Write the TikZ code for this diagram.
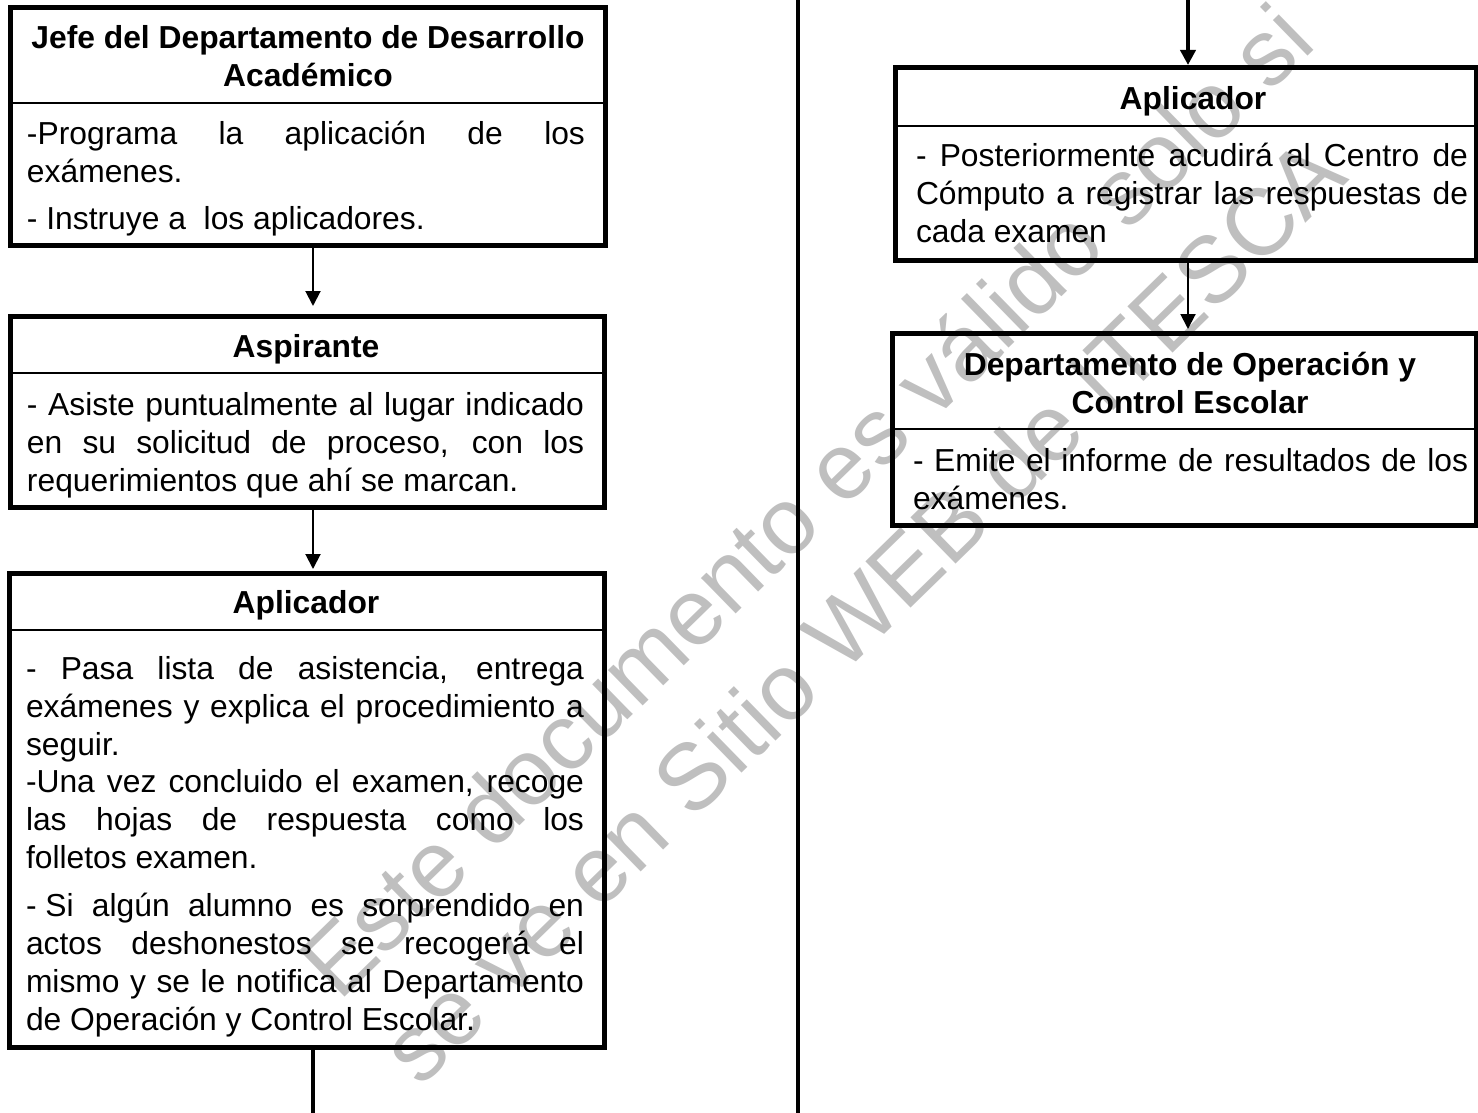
\documentclass[tikz,border=0pt]{standalone}
\usepackage{fontspec}
\setmainfont{Liberation Sans}
\usetikzlibrary{arrows.meta}
\tikzset{
  x=1pt,y=-1pt,
  box/.style={draw=black,line width=5pt,inner sep=0pt,outer sep=0pt,anchor=north west},
  sep/.style={draw=black,line width=2.5pt},
  bodytext/.style={inner sep=0pt,outer sep=0pt,anchor=north west,yshift=26.6pt,align=justify,
    font=\fontsize{31.8}{38}\selectfont,execute at begin node={\hyphenpenalty=10000\relax\strut}},
  titletext/.style={inner sep=0pt,outer sep=0pt,anchor=north,yshift=26.6pt,align=center,
    font=\fontsize{31.8}{38}\selectfont\bfseries,execute at begin node=\strut},
  flow/.style={draw=black,line width=2pt,-{Triangle[length=15pt,width=15pt]}},
  trunk/.style={draw=black,line width=4pt},
  mark text/.style={text=black!25,font=\fontsize{94}{94}\selectfont,inner sep=0pt,outer sep=0pt,anchor=base west,rotate=44.3},
}
\begin{document}
\begin{tikzpicture}
\useasboundingbox (0,0) rectangle (1478,1113);
\clip (0,0) rectangle (1478,1113);
% watermark
\node[mark text] (wm1) at (339,1002) {Este documento es válido solo si};
\node[mark text] (wm2) at (420,1088) {se ve en Sitio WEB de ITESCA};
% guides
\coordinate (colA) at (313,0);
\coordinate (colB) at (1188,0);
\coordinate (topB) at (1188,0);
\coordinate (midtop) at (798,0);
\coordinate (midbot) at (798,1113);
\coordinate (botA) at (313,1113);
% boxes
\node[box,minimum width=595pt,minimum height=237pt] (b1) at (10,8) {};
\node[box,minimum width=594pt,minimum height=191pt] (b2) at (10,316) {};
\node[box,minimum width=595pt,minimum height=474pt] (b3) at (9,573) {};
\node[box,minimum width=581pt,minimum height=192pt] (b4) at (895,68) {};
\node[box,minimum width=584pt,minimum height=192pt] (b5) at (892,333) {};
% header separators
\coordinate (s1) at (0,103);
\coordinate (s2) at (0,373);
\coordinate (s3) at (0,630);
\coordinate (s4) at (0,126);
\coordinate (s5) at (0,429);
\draw[sep] (b1.west |- s1) -- (b1.east |- s1);
\draw[sep] (b2.west |- s2) -- (b2.east |- s2);
\draw[sep] (b3.west |- s3) -- (b3.east |- s3);
\draw[sep] (b4.west |- s4) -- (b4.east |- s4);
\draw[sep] (b5.west |- s5) -- (b5.east |- s5);
% titles
\node[titletext] (t1) at (308,52) {Jefe del Departamento de Desarrollo\\Académico};
\node[titletext] (t2) at (306,357) {Aspirante};
\node[titletext] (t3) at (306,613) {Aplicador};
\node[titletext] (t4) at (1193,110) {Aplicador};
\node[titletext] (t5) at (1190,379) {Departamento de Operación y\\Control Escolar};
% body text
\node[bodytext,text width=558pt] (p1a) at (27,145) {-Programa la aplicación de los\linebreak exámenes.};
\node[bodytext,text width=558pt] (p1b) at (27,229) {- Instruye a\ \ los aplicadores.};
\node[bodytext,text width=557pt] (p2) at (27,415) {- Asiste puntualmente al lugar indicado\linebreak en su solicitud de proceso, con los\linebreak requerimientos que ahí se marcan.};
\node[bodytext,text width=558pt] (p3a) at (26,679) {- Pasa lista de asistencia, entrega\linebreak exámenes y explica el procedimiento a\linebreak seguir.};
\node[bodytext,text width=558pt] (p3b) at (26,792) {-Una vez concluido el examen, recoge\linebreak las hojas de respuesta como los\linebreak folletos examen.};
\node[bodytext,text width=558pt] (p3c) at (26,916) {-\hspace{.28em}Si algún alumno es sorprendido en\linebreak actos deshonestos se recogerá el\linebreak mismo y se le notifica al Departamento\linebreak de Operación y Control Escolar.};
\node[bodytext,text width=552pt] (p4) at (916,167) {- Posteriormente acudirá al Centro de\linebreak Cómputo a registrar las respuestas de\linebreak cada examen};
\node[bodytext,text width=555pt] (p5) at (913,471) {- Emite el informe de resultados de los\linebreak exámenes.};
% connectors
\draw[flow] (b1.south -| colA) -- ([yshift=10pt]b2.north -| colA);
\draw[flow] (b2.south -| colA) -- ([yshift=4pt]b3.north -| colA);
\draw[trunk] (b3.south -| colA) -- (botA);
\draw[trunk] (midtop) -- (midbot);
\draw[flow,line width=4pt] (topB) -- ([yshift=3pt]b4.north -| colB);
\draw[flow] (b4.south -| colB) -- ([yshift=4pt]b5.north -| colB);
\end{tikzpicture}
\end{document}
